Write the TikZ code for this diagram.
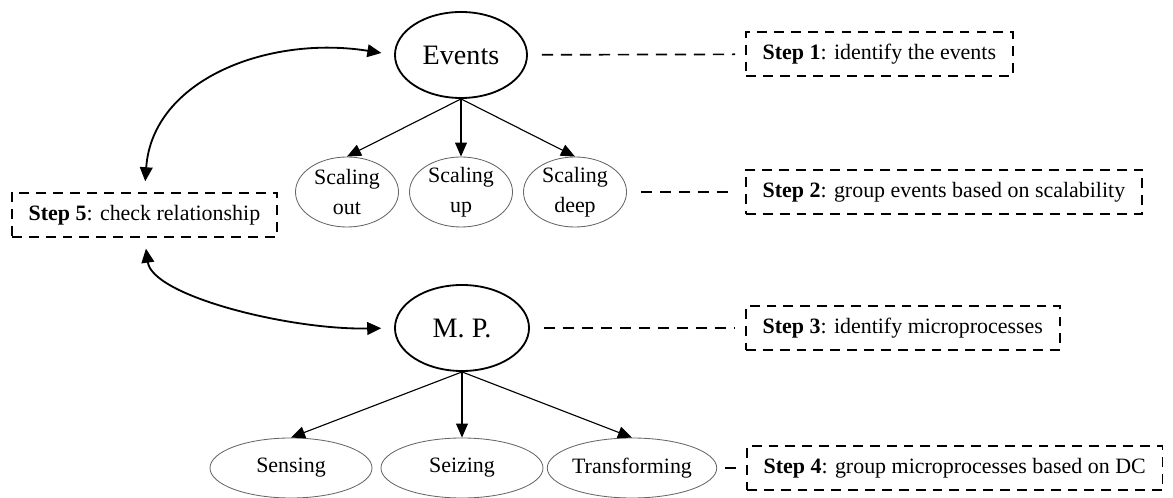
\documentclass[tikz,border=0pt]{standalone}
\usepackage{fontspec}
\setmainfont{Liberation Serif}
\usetikzlibrary{shapes.geometric,arrows.meta}

\begin{document}
\begin{tikzpicture}[x=0.025cm,y=-0.025cm,
    main/.style={ellipse,draw,line width=1.3pt,inner sep=0pt,minimum height=2.15cm,font=\fontsize{20pt}{24pt}\selectfont},
    sub/.style={ellipse,draw=black!60,line width=0.6pt,inner sep=0pt,align=center,font=\fontsize{15.6pt}{21pt}\selectfont},
    stepbox/.style={draw,dash pattern=on 7pt off 5pt,line width=1.3pt,anchor=west,inner xsep=0.42cm,minimum height=1.1cm,font=\fontsize{15.6pt}{18pt}\selectfont},
    link/.style={dash pattern=on 8pt off 5.5pt,line width=1.2pt,shorten <=0.35cm,shorten >=0.25cm},
    tip/.style={-{Triangle[length=10pt,width=8.5pt]},line width=0.8pt},
    both/.style={{Triangle[length=10pt,width=9pt]}-{Triangle[length=10pt,width=9pt]},line width=1.3pt,shorten <=0.27cm,shorten >=0.32cm}]
  \useasboundingbox (0,0) rectangle (1173,498);
  % events and their groups
  \draw
    (461,55) node[main,minimum width=3.3cm] (events){Events}
    (347,192) node[sub,minimum width=2.575cm,minimum height=1.75cm] (out){Scaling\\out}
    (461,192) node[sub,minimum width=2.575cm,minimum height=1.75cm] (up){Scaling\\up}
    (575,192) node[sub,minimum width=2.575cm,minimum height=1.75cm] (deep){Scaling\\deep};
  % microprocesses and their groups
  \draw
    (462,328) node[main,minimum width=3.35cm] (mp){M. P.}
    (291,468) node[sub,minimum width=4.05cm,minimum height=1.5cm] (sensing){Sensing}
    (462,468) node[sub,minimum width=4.05cm,minimum height=1.5cm] (seizing){Seizing}
    (632,468) node[sub,minimum width=4cm,minimum height=1.5cm] (transforming){Transforming};
  % steps
  \draw
    (745,54) node[stepbox] (step1){\textbf{Step 1}: identify the events}
    (745,192) node[stepbox] (step2){\textbf{Step 2}: group events based on scalability}
    (745,328) node[stepbox] (step3){\textbf{Step 3}: identify microprocesses}
    (746,468) node[stepbox] (step4){\textbf{Step 4}: group microprocesses based on DC}
    (11,215) node[stepbox] (step5){\textbf{Step 5}: check relationship};
  \begin{scope}[tip]
    \draw (events.south) to (out.north);
    \draw (events.south) to (up.north);
    \draw (events.south) to (deep.north);
    \draw (mp.south) to (sensing.north);
    \draw (mp.south) to (seizing.north);
    \draw (mp.south) to (transforming.north);
  \end{scope}
  \begin{scope}[link]
    \draw (events) to (step1);
    \draw (deep) to (step2);
    \draw (mp) to (step3);
    \draw[shorten <=0.2cm,shorten >=0.15cm] (transforming) to (step4);
  \end{scope}
  \draw[both] (step5.north) .. controls +(8,-113) and +(-125,-20) .. (events.west);
  \draw[both] (step5.south) .. controls +(8,58) and +(-105,2) .. (mp.west);
\end{tikzpicture}
\end{document}
